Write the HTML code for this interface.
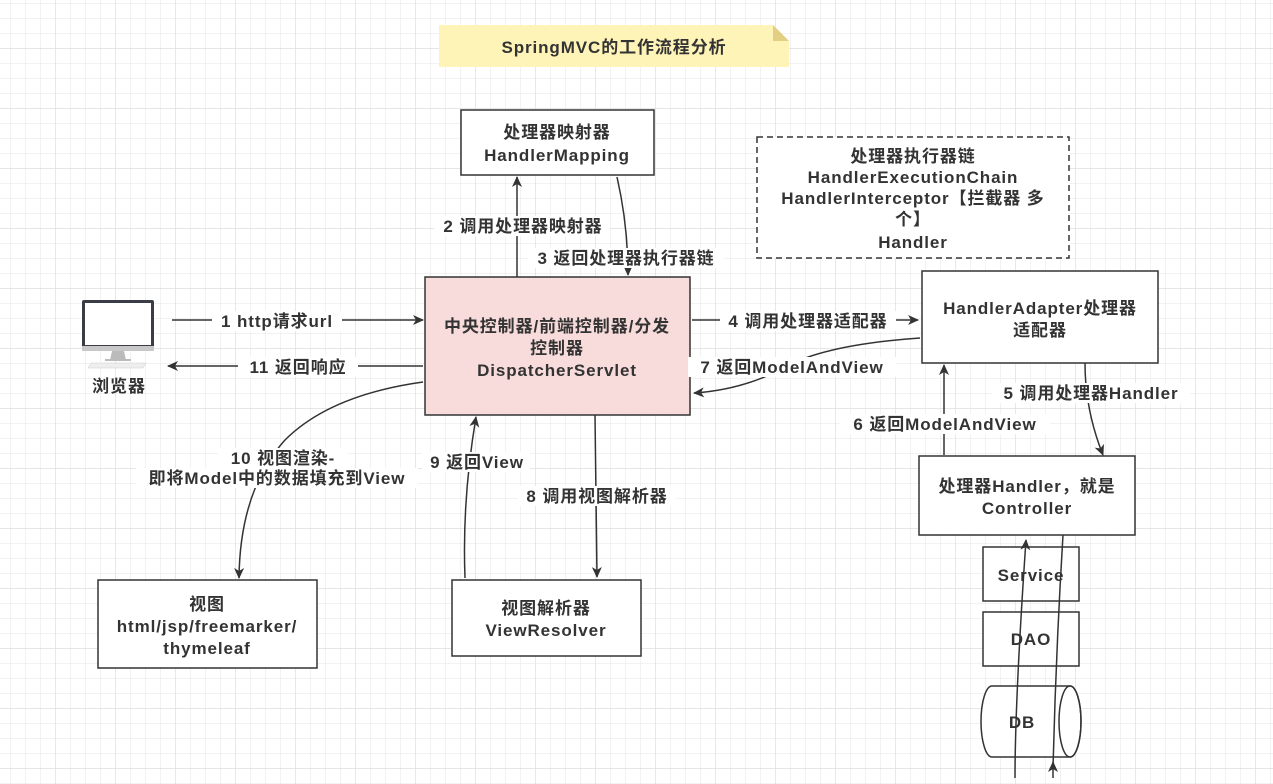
<!DOCTYPE html>
<html><head><meta charset="utf-8"><style>
html,body{margin:0;padding:0;width:1273px;height:784px;overflow:hidden;background:#fff}
svg text{font-family:"Liberation Sans","Noto Sans CJK SC",sans-serif;font-weight:bold;fill:#333;font-size:17px;letter-spacing:0.9px}
</style></head><body>
<svg width="1273" height="784" xmlns="http://www.w3.org/2000/svg">
<defs>
<pattern id="mn" width="15" height="15" patternUnits="userSpaceOnUse" x="10" y="3">
<path d="M0 0H15M0 0V15" stroke="#e9e9e9" stroke-width="1.2" fill="none"/></pattern>
<pattern id="mj" width="60" height="60" patternUnits="userSpaceOnUse" x="55" y="48">
<path d="M0 0H60M0 0V60" stroke="#dadada" stroke-width="1.2" fill="none"/></pattern>
<marker id="a" markerWidth="12" markerHeight="12" refX="10" refY="6" orient="auto" markerUnits="userSpaceOnUse">
<path d="M0 1L11 6L0 11L3 6Z" fill="#333"/></marker>
</defs>
<rect width="1273" height="784" fill="url(#mn)"/>
<rect width="1273" height="784" fill="url(#mj)"/>
<g stroke="#333" stroke-width="1.5" fill="none">
<path d="M439 25H773L789 41V67H439Z" fill="#fff4b8" stroke="none"/>
<path d="M773 25L789 41H773Z" fill="#e2cf84" stroke="none"/>
<rect x="461" y="110" width="193" height="65" fill="#fff"/>
<rect x="757" y="137" width="312" height="121" fill="#fff" stroke-dasharray="6 4"/>
<rect x="425" y="277" width="265" height="138" fill="#f8dcdc"/>
<rect x="922" y="271" width="236" height="92" fill="#fff"/>
<rect x="919" y="456" width="216" height="79" fill="#fff"/>
<rect x="983" y="547" width="96" height="54" fill="#fff"/>
<rect x="983" y="612" width="96" height="54" fill="#fff"/>
<path d="M992 686H1070A11 35.5 0 0 1 1070 757H992A11 35.5 0 0 1 992 686Z" fill="#fff"/>
<ellipse cx="1070" cy="721.5" rx="11" ry="35.5"/>
<rect x="98" y="580" width="219" height="88" fill="#fff"/>
<rect x="452" y="580" width="189" height="76" fill="#fff"/>
<path d="M172 320H423" marker-end="url(#a)"/>
<path d="M423 366H168" marker-end="url(#a)"/>
<path d="M517 277V177" marker-end="url(#a)"/>
<path d="M617 177Q628 225 628 275" marker-end="url(#a)"/>
<path d="M692 320H918" marker-end="url(#a)"/>
<path d="M920 338Q820 345 780 370Q740 390 694 393" marker-end="url(#a)"/>
<path d="M1085 363Q1085 410 1103 455" marker-end="url(#a)"/>
<path d="M944 455V365" marker-end="url(#a)"/>
<path d="M423 382Q330 395 285 440Q240 490 239 578" marker-end="url(#a)"/>
<path d="M465 578Q462 500 476 417" marker-end="url(#a)"/>
<path d="M595 415Q596 500 597 577" marker-end="url(#a)"/>
<path d="M1015 778Q1015 700 1026 540" marker-end="url(#a)"/>
<path d="M1063 535Q1056 650 1053 768"/>
<path d="M1053 778V762" marker-end="url(#a)"/>
</g>
<rect x="82" y="300" width="72" height="50" rx="2" fill="#3a3d45"/>
<rect x="85" y="303" width="66" height="42" fill="#fff"/>
<rect x="82" y="346" width="72" height="5" fill="#c8c8c8"/>
<path d="M112 351H124L126 360H110Z" fill="#bbb"/>
<rect x="105" y="359" width="26" height="2" fill="#bbb"/>
<path d="M91 363H146L143 368H88Z" fill="#eee" stroke="#ccc" stroke-width="0.5"/>
<g text-anchor="middle">
<text x="614" y="53">SpringMVC的工作流程分析</text>
<text x="557" y="138">处理器映射器</text>
<text x="557" y="161">HandlerMapping</text>
<text x="913" y="162">处理器执行器链</text>
<text x="913" y="183">HandlerExecutionChain</text>
<text x="913" y="204">HandlerInterceptor【拦截器 多</text>
<text x="913" y="225">个】</text>
<text x="913" y="248">Handler</text>
<text x="557" y="332">中央控制器/前端控制器/分发</text>
<text x="557" y="354">控制器</text>
<text x="557" y="376">DispatcherServlet</text>
<text x="1040" y="314">HandlerAdapter处理器</text>
<text x="1040" y="336">适配器</text>
<text x="1027" y="492">处理器Handler，就是</text>
<text x="1027" y="514">Controller</text>
<text x="1031" y="581">Service</text>
<text x="1031" y="645">DAO</text>
<text x="1022" y="728">DB</text>
<text x="207" y="610">视图</text>
<text x="207" y="632">html/jsp/freemarker/</text>
<text x="207" y="654">thymeleaf</text>
<text x="546" y="614">视图解析器</text>
<text x="546" y="636">ViewResolver</text>
<text x="119" y="392">浏览器</text>
</g>
<g text-anchor="middle">
<rect x="212" y="311" width="130" height="20" fill="#fff"/>
<text x="277" y="327">1 http请求url</text>
<rect x="238" y="357" width="120" height="20" fill="#fff"/>
<text x="298" y="373">11 返回响应</text>
<rect x="434" y="216" width="176" height="20" fill="#fff"/>
<text x="523" y="232">2 调用处理器映射器</text>
<rect x="528" y="248" width="196" height="20" fill="#fff"/>
<text x="626" y="264">3 返回处理器执行器链</text>
<rect x="720" y="311" width="176" height="20" fill="#fff"/>
<text x="808" y="327">4 调用处理器适配器</text>
<rect x="688" y="357" width="208" height="20" fill="#fff"/>
<text x="792" y="373">7 返回ModelAndView</text>
<rect x="992" y="383" width="198" height="20" fill="#fff"/>
<text x="1091" y="399">5 调用处理器Handler</text>
<rect x="840" y="414" width="210" height="20" fill="#fff"/>
<text x="945" y="430">6 返回ModelAndView</text>
<rect x="218" y="448" width="130" height="20" fill="#fff"/>
<text x="283" y="464">10 视图渲染-</text>
<rect x="136" y="468" width="282" height="20" fill="#fff"/>
<text x="277" y="484">即将Model中的数据填充到View</text>
<rect x="422" y="452" width="108" height="20" fill="#fff"/>
<text x="477" y="468">9 返回View</text>
<rect x="518" y="486" width="158" height="20" fill="#fff"/>
<text x="597" y="502">8 调用视图解析器</text>
</g>
</svg>
</body></html>
